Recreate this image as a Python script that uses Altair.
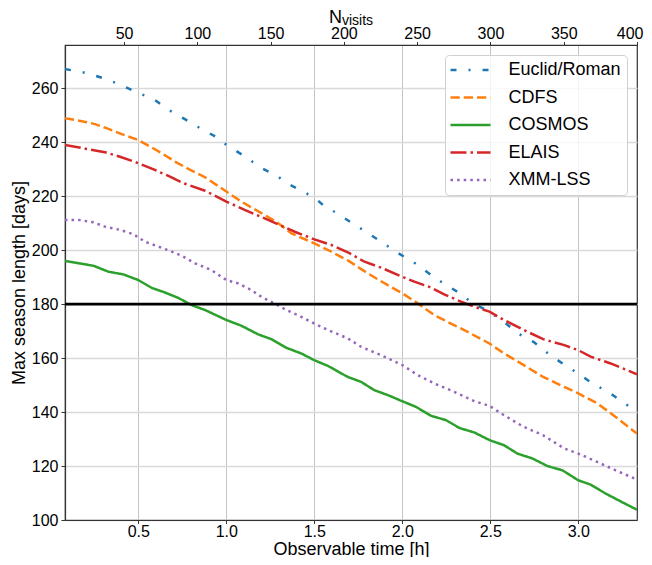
import altair as alt
import pandas as pd

series = ["Euclid/Roman", "CDFS", "COSMOS", "ELAIS", "XMM-LSS"]
colors = ["#1f77b4", "#ff7f0e", "#2ca02c", "#d62728", "#9467bd"]
dashes = [[6, 12, 2, 12], [9.25, 4], [1, 0], [16, 4, 2.5, 4], [2.5, 4.1]]

euclid_t = [0.083, 0.207, 0.302, 0.402, 0.5, 0.585, 0.671, 0.762, 0.85, 0.94, 1.0, 1.108, 1.195,
            1.284, 1.373, 1.5, 1.544, 1.634, 1.718, 1.807, 1.893, 1.978, 2.064, 2.15, 2.233, 2.32,
            2.394, 2.495, 2.578, 2.657, 2.745, 2.828, 2.91, 2.998, 3.08, 3.174, 3.26, 3.333]
euclid_v = [267.1, 265.6, 263.7, 261.2, 258.2, 256.0, 252.0, 248.6, 245.2, 242.0, 239.0, 234.6, 230.6,
            227.6, 223.8, 219.5, 217.0, 213.4, 209.9, 206.2, 202.5, 198.8, 195.5, 191.4, 187.7, 184.3,
            180.6, 177.1, 173.4, 169.1, 166.0, 161.7, 158.0, 154.3, 150.6, 147.3, 143.2, 140.5]

cdfs_t = [0.083, 0.207, 0.254, 0.33, 0.405, 0.5, 0.566, 0.633, 0.708, 0.784, 0.879, 1.0, 1.085, 1.199,
          1.284, 1.37, 1.5, 1.597, 1.695, 1.803, 1.917, 2.0, 2.087, 2.182, 2.276, 2.371, 2.495, 2.578,
          2.69, 2.8, 2.92, 3.0, 3.108, 3.212, 3.333]
cdfs_v = [248.9, 247.4, 246.7, 244.9, 243.0, 240.8, 238.4, 235.9, 232.8, 230.1, 227.0, 221.7, 218.0, 213.7,
          210.5, 206.2, 202.5, 199.4, 196.0, 191.4, 187.0, 184.0, 180.3, 175.9, 172.8, 169.7, 165.4, 161.7,
          157.4, 153.0, 149.3, 146.9, 143.2, 138.2, 132.0]

cosmos_t = [0.083, 0.245, 0.33, 0.415, 0.5, 0.576, 0.651, 0.727, 0.803, 0.879, 1.0, 1.085, 1.18, 1.256,
            1.341, 1.426, 1.5, 1.577, 1.69, 1.765, 1.841, 1.917, 2.0, 2.078, 2.163, 2.248, 2.324, 2.41,
            2.495, 2.578, 2.654, 2.739, 2.824, 2.91, 3.0, 3.07, 3.155, 3.24, 3.333]
cosmos_v = [196.0, 194.2, 192.0, 191.0, 188.9, 186.0, 184.3, 182.3, 179.6, 177.8, 174.1, 172.0, 168.8, 167.0,
            163.8, 161.7, 159.2, 157.1, 153.0, 151.2, 148.1, 146.3, 144.0, 141.9, 138.6, 137.0, 134.1, 132.4,
            129.6, 127.7, 124.6, 122.8, 120.0, 118.4, 114.7, 113.1, 109.8, 106.9, 103.8]

elais_t = [0.083, 0.207, 0.31, 0.396, 0.5, 0.594, 0.68, 0.756, 0.879, 1.0, 1.104, 1.237, 1.389, 1.5,
           1.597, 1.69, 1.785, 1.879, 2.0, 2.068, 2.153, 2.238, 2.333, 2.41, 2.495, 2.578, 2.69, 2.8,
           2.92, 3.0, 3.07, 3.184, 3.333]
elais_v = [239.0, 237.5, 236.3, 234.6, 232.2, 229.7, 227.2, 224.8, 222.0, 218.0, 214.9, 211.2, 206.8, 204.0,
           201.9, 199.2, 195.7, 193.5, 190.1, 188.3, 186.4, 183.6, 180.9, 179.0, 177.2, 174.1, 170.4, 167.0,
           164.8, 162.9, 160.5, 158.0, 154.0]

xmm_t = [0.083, 0.16, 0.245, 0.31, 0.396, 0.472, 0.538, 0.614, 0.68, 0.746, 0.822, 0.915, 1.0, 1.066,
         1.142, 1.199, 1.271, 1.341, 1.407, 1.5, 1.577, 1.69, 1.765, 1.879, 2.0, 2.087, 2.182, 2.295,
         2.41, 2.495, 2.578, 2.69, 2.8, 2.92, 3.0, 3.108, 3.212, 3.333]
xmm_v = [211.2, 211.2, 210.3, 208.7, 207.5, 205.9, 203.1, 201.3, 199.7, 197.9, 195.1, 192.6, 188.9, 187.7,
         185.2, 182.7, 180.3, 177.8, 175.9, 172.8, 170.4, 167.3, 164.2, 161.1, 157.4, 153.7, 150.6, 147.5,
         144.0, 142.3, 138.8, 134.5, 131.4, 126.5, 124.6, 121.5, 118.4, 115.0]

x_ticks = [0.5, 1.0, 1.5, 2.0, 2.5, 3.0]
y_ticks = [100, 120, 140, 160, 180, 200, 220, 240, 260]
n_ticks = [50, 100, 150, 200, 250, 300, 350, 400]
threshold = [180]

rows = []
for name, ts, vs in zip(series, [euclid_t, cdfs_t, cosmos_t, elais_t, xmm_t],
                        [euclid_v, cdfs_v, cosmos_v, elais_v, xmm_v]):
    for t, v in zip(ts, vs):
        rows.append({"series": name, "t": t, "v": v})
df = pd.DataFrame(rows)

FONT = "Liberation Sans"

lines = alt.Chart(df).mark_line(strokeWidth=2.5, clip=True).encode(
    x=alt.X("t:Q", scale=alt.Scale(domain=[0.0833, 3.3333], nice=False, zero=False),
            axis=alt.Axis(values=x_ticks, format=".1f", title="Observable time [h]", grid=True,
                          gridColor="#c4c4c4", gridWidth=1, titleY=34, titleBaseline="alphabetic",
                          labelPadding=0, tickSize=3.5, labelFlush=False)),
    y=alt.Y("v:Q", scale=alt.Scale(domain=[100, 276], nice=False, zero=False),
            axis=alt.Axis(values=y_ticks, title="Max season length [days]", grid=True,
                          gridColor="#d9d9d9", gridWidth=1.6, titlePadding=3, labelPadding=3,
                          labelFlush=False)),
    color=alt.Color("series:N", scale=alt.Scale(domain=series, range=colors),
                    legend=alt.Legend(title=None)),
    strokeDash=alt.StrokeDash("series:N", scale=alt.Scale(domain=series, range=dashes),
                              legend=alt.Legend(title=None)),
)

rule = alt.Chart(pd.DataFrame({"y": threshold})).mark_rule(color="black", strokeWidth=2.7).encode(
    y="y:Q"
)

top = alt.Chart(pd.DataFrame({"N": n_ticks})).mark_point(opacity=0).encode(
    x=alt.X("N:Q", scale=alt.Scale(domain=[9.7, 400], nice=False, zero=False),
            axis=alt.Axis(orient="top", values=n_ticks, grid=False, title=None, labelPadding=0,
                          tickSize=3.5, labelFlush=True, labelFlushOffset=6))
)

t_n = alt.Chart(pd.DataFrame({"s": ["N"]})).mark_text(
    align="left", baseline="alphabetic", fontSize=18, font=FONT, color="black"
).encode(text="s:N", x=alt.value(264), y=alt.value(-22))

t_sub = alt.Chart(pd.DataFrame({"s": ["visits"]})).mark_text(
    align="left", baseline="alphabetic", fontSize=14, font=FONT, color="black"
).encode(text="s:N", x=alt.value(277), y=alt.value(-20))

chart = alt.layer(lines, rule, top, t_n, t_sub).resolve_scale(x="independent").properties(
    width=572, height=475,
    autosize=alt.AutoSizeParams(type="none"),
    padding={"left": 57, "top": 37, "right": 7, "bottom": 37},
).configure_view(
    stroke="#333333", strokeWidth=1.2
).configure_axis(
    labelFont=FONT, labelFontSize=16, labelColor="black",
    titleFont=FONT, titleFontSize=18, titleFontWeight="normal", titleColor="black",
    tickColor="#333333", domainColor="#333333", tickSize=4, domainWidth=1.2,
).configure_legend(
    orient="top-right", offset=10, padding=6,
    fillColor="rgba(255,255,255,0.8)", strokeColor="#d0d0d0", cornerRadius=4,
    labelFont=FONT, labelFontSize=18, labelColor="black",
    symbolType="M-4,0H4", symbolSize=100, symbolStrokeWidth=2.5,
    symbolOffset=10.5, rowPadding=9.5, labelOffset=29,
)

chart.save("out.html", embed_options={"renderer": "svg", "actions": False})
